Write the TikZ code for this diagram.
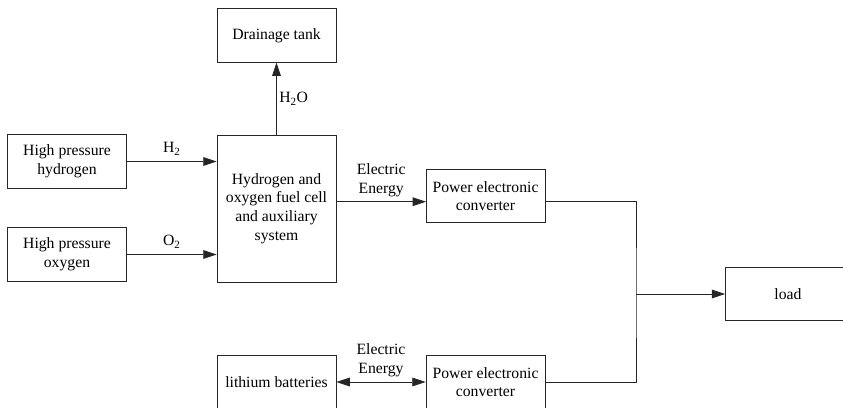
\documentclass[tikz,border=0pt]{standalone}
\usepackage{fontspec}
\setmainfont{Liberation Serif}
\usetikzlibrary{arrows.meta}

\begin{document}
\begin{tikzpicture}[x=0.03cm,y=-0.03cm]

\tikzset{
  block/.style={
    draw=black!85,
    line width=0.7pt,
    minimum width=3.57cm,
    minimum height=1.6cm,
    align=center,
    inner sep=2pt,
    font=\fontsize{13.4}{16}\selectfont,
  },
  flow/.style={
    line width=0.7pt,
    draw=black!85,
    -{Triangle[length=0.4cm,width=0.26cm]},
  },
  tag/.style={
    font=\fontsize{13.4}{16}\selectfont,
    align=center,
    inner sep=1pt,
  }
}

\useasboundingbox (0,0) rectangle (843,407);
\clip (0,0) rectangle (843,407);

% Sources
\node[block] (hyd) at (67,161.5) {High pressure\\hydrogen};
\node[block] (oxy) at (67,254.5) {High pressure\\oxygen};

% Fuel cell and tank
\node[block, minimum height=4.41cm] (fc) at (276.5,208.5)
  {Hydrogen and\\oxygen fuel cell\\and auxiliary\\system};
\node[block] (tank) at (276.5,35.5) {Drainage tank};

% Battery and converters
\node[block] (bat) at (276.5,382) {lithium batteries};
\node[block] (conv1) at (485.5,196) {Power electronic\\converter};
\node[block] (conv2) at (485.5,382) {Power electronic\\converter};

% Load
\node[block, minimum width=3.75cm] (load) at (788,294) {load};

% Gas inputs
\draw[flow] (hyd.east) -- (hyd.east -| fc.west) node[tag, midway, above=4pt] {H\textsubscript{2}};
\draw[flow] (oxy.east) -- (oxy.east -| fc.west) node[tag, midway, above=4pt] {O\textsubscript{2}};

% Water out
\draw[flow] (fc.north) -- (tank.south) node[tag, midway, anchor=west, xshift=1pt] {H\textsubscript{2}O};

% Electric energy
\coordinate (c1in) at (426,201.7);
\draw[flow] (fc.east |- c1in) -- (c1in)
  node[tag, midway, above=3pt] {Electric\\Energy};
\draw[flow, {Triangle[length=0.4cm,width=0.26cm]}-{Triangle[length=0.4cm,width=0.26cm]}]
  (bat.east) -- (conv2.west) node[tag, midway, above=3pt] {Electric\\Energy};

% Bus to load
\coordinate (bus) at (636,294);
\draw[line width=0.7pt, draw=black!85] (conv1.east |- c1in) -| (bus) |- (conv2.east);
\draw[flow] (bus) -- (load.west);

\end{tikzpicture}
\end{document}
